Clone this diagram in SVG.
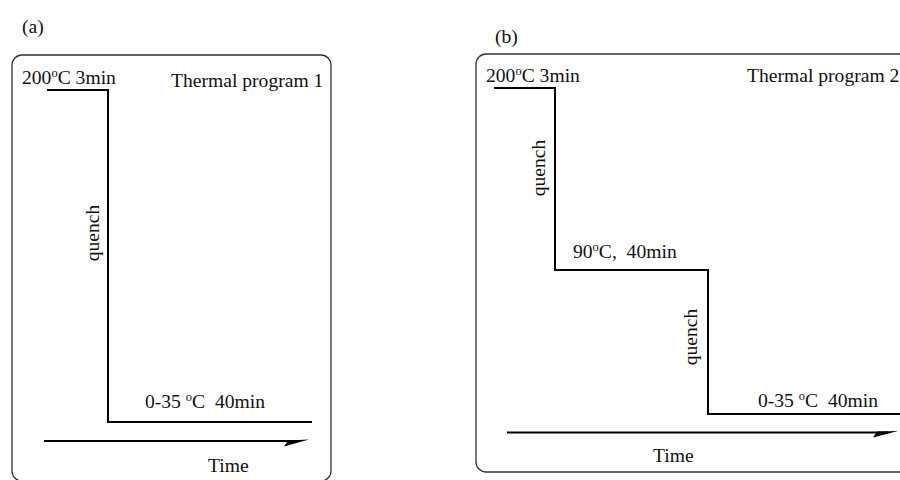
<svg xmlns="http://www.w3.org/2000/svg" width="900" height="480" viewBox="0 0 900 480">
  <style>
    text { font-family: "Liberation Serif", "Times New Roman", serif; font-size: 19.6px; fill: #111; white-space: pre; }
    .frame { fill: #fff; stroke: #333; stroke-width: 1.3; }
    .prog { fill: none; stroke: #000; stroke-width: 2; stroke-linejoin: miter; }
    .axis { fill: none; stroke: #000; stroke-width: 2; }
    .head { fill: #000; stroke: none; }
    .sup { font-size: 12.5px; }
  </style>
  <rect width="900" height="480" fill="#fff"/>

  <!-- Panel (a): thermal program 1 -->
  <g id="panel-a">
    <text x="22" y="33">(a)</text>
    <rect class="frame" x="12" y="55" width="319" height="426" rx="10" ry="10"/>
    <text x="22" y="84">200<tspan class="sup" dy="-7">o</tspan><tspan dy="7">C 3min</tspan></text>
    <text x="171" y="87">Thermal program 1</text>
    <text transform="translate(99,233) rotate(-90)" text-anchor="middle">quench</text>
    <text x="145" y="408" xml:space="preserve">0-35 <tspan class="sup" dy="-7">o</tspan><tspan dy="7">C  40min</tspan></text>
    <text x="208" y="472">Time</text>
  </g>

  <!-- Panel (b): thermal program 2 -->
  <g id="panel-b">
    <text x="495" y="43">(b)</text>
    <rect class="frame" x="476" y="54" width="440" height="418" rx="10" ry="10"/>
    <text x="486" y="82">200<tspan class="sup" dy="-7">o</tspan><tspan dy="7">C 3min</tspan></text>
    <text x="747" y="82">Thermal program 2</text>
    <text transform="translate(545,168) rotate(-90)" text-anchor="middle">quench</text>
    <text x="573" y="258" xml:space="preserve">90<tspan class="sup" dy="-7">o</tspan><tspan dy="7">C,  40min</tspan></text>
    <text transform="translate(697,337) rotate(-90)" text-anchor="middle">quench</text>
    <text x="758" y="407" xml:space="preserve">0-35 <tspan class="sup" dy="-7">o</tspan><tspan dy="7">C  40min</tspan></text>
    <text x="653" y="462">Time</text>
  </g>

  <!-- Temperature profiles and time axes -->
  <g id="connectors">
    <polyline class="prog" points="47,90 108,90 108,422 312,422"/>
    <line class="axis" x1="44" y1="441" x2="300" y2="441"/>
    <polygon class="head" points="309,439.5 284,446.5 288,440.5"/>

    <polyline class="prog" points="494,88 555,88 555,270 708,270 708,414 902,414"/>
    <line class="axis" x1="507" y1="432.5" x2="888" y2="432.5"/>
    <polygon class="head" points="898,431 873,437.5 877,431.5"/>
  </g>
</svg>
